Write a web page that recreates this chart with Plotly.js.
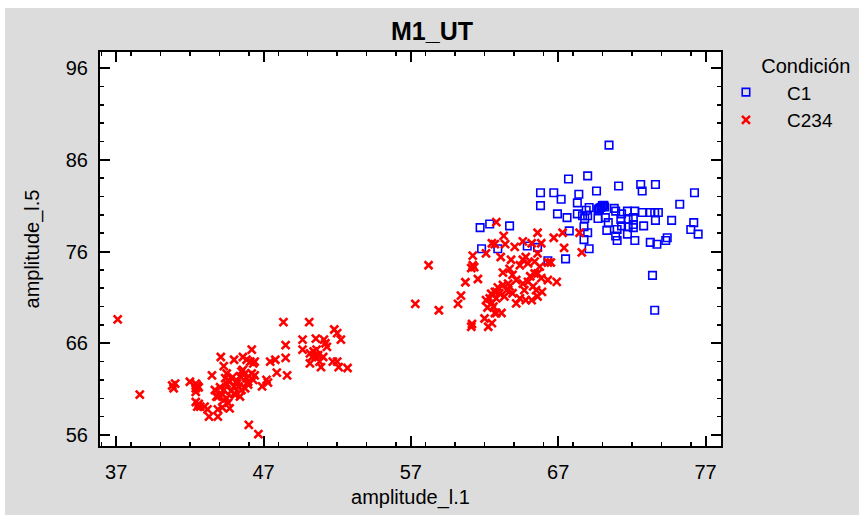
<!DOCTYPE html>
<html>
<head>
<meta charset="utf-8">
<script src="https://cdn.plot.ly/plotly-3.0.1.min.js"></script>
<style>
  html, body { margin: 0; padding: 0; background: #ffffff; }
  #wrap { width: 859px; height: 515px; padding: 8px 0 0 5px; box-sizing: border-box; background: #ffffff; }
  #chart { width: 854px; height: 507px; }
</style>
</head>
<body>
<div id="wrap"><div id="chart"></div></div>
<script>
const chartTitle = "M1_UT";
const xTitle = "amplitude_l.1";
const yTitle = "amplitude_l.5";
const legendTitle = "Condición";
const seriesNames = ["C1", "C234"];

const c1X = [61.7, 62.35, 63.7, 61.8, 62.9, 64.9, 65.6, 66.3, 67.5,
  65.8, 65.8, 66.7, 67.2, 66.95, 67.6, 67.7, 69.0, 68.4, 69.6, 68.3, 68.3, 67.75,
  68.75, 69.0, 68.75, 69.1,
  68.65, 68.8, 69.0, 68.9, 69.1, 69.7, 69.7,
  70.45, 71.1, 72.6, 72.7, 73.6, 76.25, 75.25,
  70.0, 69.9, 69.8, 70.1, 69.75, 70.2, 70.4, 70.3, 70.8, 70.9, 71.3, 71.7, 71.25, 71.75,
  72.1, 72.2, 72.7, 72.1, 72.1, 71.3, 71.75, 71.0, 70.9, 71.0, 71.7, 72.2, 72.8,
  73.25, 73.55, 73.8, 73.6, 74.7, 73.25, 73.7, 74.3, 74.4, 73.4, 73.55, 76.2, 76.0, 76.5,
  70.0, 70.15];
const c1Y = [78.6, 79.0, 78.8, 76.3, 76.3, 76.6, 76.45, 75.0, 75.2,
  82.4, 81.0, 82.4, 81.7, 80.1, 79.7, 83.9, 84.25, 82.25, 82.6, 81.3, 80.1, 78.25,
  78.7, 78.05, 77.3, 76.3,
  79.9, 79.6, 79.9, 80.5, 80.8, 80.6, 79.6,
  87.6, 83.15, 83.3, 82.6, 83.3, 82.4, 81.15,
  81.0, 80.8, 80.7, 81.05, 80.5, 79.7, 79.15, 78.3, 80.7, 80.4, 80.1, 80.4, 79.5, 79.5,
  79.7, 80.4, 80.25, 78.95, 78.6, 78.8, 78.7, 78.4, 77.7, 77.2, 77.9, 77.2, 78.8,
  80.25, 80.25, 80.25, 79.4, 79.4, 77.0, 76.8, 77.2, 77.5, 73.4, 69.6, 79.15, 78.4, 77.9,
  80.9, 80.85];

const c234X = [37.1, 38.6, 40.8, 41.0, 40.9, 42.0,
  42.4, 42.5, 42.6, 42.4, 42.4, 42.4, 42.6, 42.7, 42.5,
  43.0, 43.2, 43.3, 43.9, 43.9, 44.2, 43.5, 44.1, 44.3,
  44.05, 44.3, 44.5, 44.4, 44.6, 44.2, 43.9, 44.3, 44.6, 43.7, 43.8,
  44.7, 44.9, 44.8, 44.5, 45.1, 45.0, 45.2, 44.5, 44.7,
  45.0, 45.6, 45.85, 46.2, 46.1, 46.3, 46.4,
  45.6, 45.5, 45.4, 45.75, 45.85, 45.95, 46.2, 46.4, 46.3,
  45.2, 45.3, 45.5, 45.0, 45.4, 45.75, 45.95,
  47.2, 47.3, 46.9, 47.45, 47.8, 47.9, 48.5, 48.5, 48.6, 48.35, 50.1,
  46.0, 46.65, 49.65, 49.65,
  50.55, 51.1, 51.3, 51.2, 51.8, 52.0, 52.25,
  50.15, 50.4, 50.5, 50.3, 50.15, 50.7, 50.8, 50.9, 51.05, 50.6,
  51.7, 52.0, 52.1, 52.7,
  58.2, 57.3, 58.9, 60.2, 60.4, 60.7, 61.55,
  61.2, 61.2, 61.3, 61.1, 62.1, 62.5, 62.7, 62.8, 61.15, 61.1,
  62.0, 62.25, 62.5, 62.7, 62.6, 62.35, 62.7, 62.8, 62.1, 62.5,
  63.3, 65.6, 66.7, 67.3, 68.45,
  64.05, 64.6, 63.4, 63.1, 65.2, 65.85, 65.6, 67.4, 68.6,
  63.8, 64.6, 64.8, 64.95, 64.4, 65.4, 65.75, 66.3, 66.5,
  63.25, 63.7, 63.9, 65.4, 65.1, 65.6,
  66.3, 66.9, 65.85, 64.95, 64.6, 64.15, 64.7, 65.3, 65.5, 65.6, 65.9, 65.2, 64.8, 64.4, 64.15,
  63.6, 63.25, 63.5, 63.7, 63.9, 63.35, 63.0, 62.8,
  63.15, 62.8, 62.9, 62.45, 62.2];
const c234Y = [68.6, 60.4, 61.4, 61.6, 61.1, 61.8,
  61.6, 61.4, 61.2, 61.1, 60.7, 59.6, 59.4, 59.1, 59.1,
  59.1, 58.8, 58.0, 58.0, 58.8, 59.0, 62.5, 64.5, 63.5,
  61.2, 60.9, 61.6, 62.2, 62.0, 60.4, 60.2, 59.8, 59.5, 60.9, 60.2,
  61.8, 62.3, 60.8, 60.0, 60.4, 61.3, 61.9, 62.7, 58.9,
  64.2, 64.5, 64.2, 65.3, 64.0, 63.8, 64.0,
  63.1, 62.9, 62.4, 62.7, 62.2, 61.8, 62.7, 62.5, 62.0,
  61.6, 61.3, 60.9, 60.5, 60.2, 61.1, 61.5,
  62.0, 61.7, 61.3, 64.0, 64.2, 62.8, 65.8, 64.4, 62.5, 68.3, 68.3,
  57.1, 56.1, 66.4, 65.3,
  66.5, 66.4, 65.6, 66.0, 67.5, 67.1, 66.4,
  64.9, 65.1, 64.7, 64.5, 63.8, 64.7, 64.0, 63.4, 64.5, 65.3,
  64.0, 64.0, 63.4, 63.3,
  74.5, 70.3, 69.6, 70.3, 71.2, 72.65, 73.0,
  75.55, 74.5, 74.3, 74.2, 75.8, 76.9, 76.8, 79.2, 68.1, 67.8,
  68.7, 67.8, 68.2, 69.3, 70.0, 70.9, 71.6, 70.9, 70.7, 70.4,
  77.7, 78.05, 77.5, 78.05, 78.05,
  76.5, 77.1, 76.8, 75.4, 76.9, 76.9, 75.8, 76.4, 75.9,
  75.1, 75.1, 75.4, 74.7, 74.5, 74.9, 74.35, 74.8, 74.8,
  73.7, 74.1, 73.45, 73.6, 73.3, 73.6,
  72.9, 72.7, 73.1, 72.7, 72.5, 72.9, 71.8, 72.2, 71.8, 71.1, 71.6, 70.7, 70.7, 70.9, 70.35,
  72.5, 72.35, 71.8, 72.2, 71.45, 71.1, 71.45, 71.6,
  69.3, 69.3, 72.1, 71.4, 69.9];

const xTickVals = [37, 47, 57, 67, 77];
const yTickVals = [56, 66, 76, 86, 96];

const pad = "\u00a0\u00a0\u00a0\u00a0";
const FONT = "Liberation Sans, Arial, sans-serif";

const traces = [
  {
    type: "scatter", mode: "markers", name: pad + seriesNames[0],
    x: c1X, y: c1Y,
    marker: { symbol: "square-open", size: 7.5, color: "#0000ff", line: { width: 1.6, color: "#0000ff" } },
    hoverinfo: "x+y"
  },
  {
    type: "scatter", mode: "markers", name: pad + seriesNames[1],
    x: c234X, y: c234Y,
    marker: { symbol: "x-thin-open", size: 8, color: "#ff0000", line: { width: 2.6, color: "#ff0000" } },
    hoverinfo: "x+y"
  }
];

const axisCommon = {
  showgrid: false, zeroline: false,
  showline: true, linecolor: "#000000", linewidth: 2, mirror: "ticks",
  ticks: "inside", ticklen: 10, tickwidth: 2, tickcolor: "#000000",
  tickfont: { family: FONT, size: 20, color: "#000000" },
  minor: { ticks: "inside", ticklen: 4, tickwidth: 1.5, tickcolor: "#000000", dtick: 2 }
};

const layout = {
  width: 854, height: 507,
  paper_bgcolor: "#dcdcdc", plot_bgcolor: "#ffffff",
  margin: { l: 95, r: 138, t: 44, b: 69, pad: 0, autoexpand: false },
  font: { family: FONT, size: 20, color: "#000000" },
  title: { text: "<b>" + chartTitle + "</b>", font: { family: FONT, size: 25, color: "#000000" }, x: 0.5, xanchor: "center", y: 0.955, yanchor: "middle" },
  xaxis: Object.assign({}, axisCommon, {
    range: [35.9, 78.05], tickmode: "array", tickvals: xTickVals, ticktext: xTickVals.map(String),
    ticklabelstandoff: 7,
    title: { text: xTitle, font: { family: FONT, size: 20 }, standoff: 8 }
  }),
  yaxis: Object.assign({}, axisCommon, {
    range: [54.8, 97.75], tickmode: "array", tickvals: yTickVals, ticktext: yTickVals.map(String),
    ticklabelstandoff: 6,
    title: { text: yTitle, font: { family: FONT, size: 20 }, standoff: 21 }
  }),
  showlegend: true,
  legend: {
    x: 1.008, xanchor: "left", y: 1.012, yanchor: "top",
    bgcolor: "rgba(0,0,0,0)", borderwidth: 0,
    font: { family: FONT, size: 19, color: "#000000" },
    title: { text: "\u00a0\u00a0\u00a0\u00a0\u00a0\u00a0" + legendTitle, font: { family: FONT, size: 20 } },
    tracegroupgap: 0
  }
};

Plotly.newPlot("chart", traces, layout, { displayModeBar: false, staticPlot: true });
</script>
</body>
</html>
